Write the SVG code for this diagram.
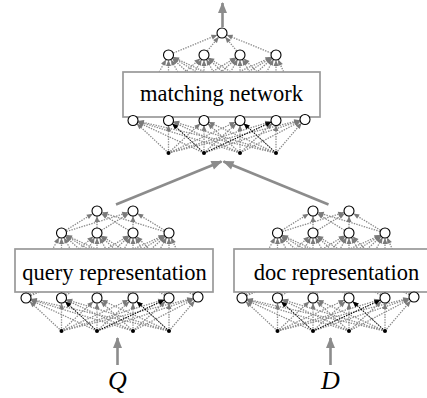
<svg xmlns="http://www.w3.org/2000/svg" xmlns:xlink="http://www.w3.org/1999/xlink" width="427" height="398" viewBox="0 0 427 398">
<style>
.c{fill:#fff;stroke:#000;stroke-width:1.1}
.dot{fill:#000}
.box{fill:#fff;stroke:#999;stroke-width:1.7}
.lbl{font-family:"Liberation Serif",serif;font-size:22.5px;text-anchor:middle;fill:#000}
.var{font-family:"Liberation Serif",serif;font-style:italic;font-size:26px;text-anchor:middle;fill:#000}
.dl line{stroke:#8a8a8a;stroke-width:1.3;stroke-dasharray:1.4 1.2;fill:none;marker-end:url(#ag)}
.bl line{stroke:#000;stroke-width:1;stroke-dasharray:1.4 1.2;marker-end:url(#ab)}
.big{stroke:#8c8c8c;stroke-width:2.6;fill:none;marker-end:url(#ah)}
</style>
<defs>
<marker id="ag" markerUnits="userSpaceOnUse" markerWidth="12" markerHeight="6" refX="11" refY="3" orient="auto" overflow="visible"><path d="M0,0.5 L6,3 L0,5.5z" fill="#7a7a7a"/></marker>
<marker id="ab" markerUnits="userSpaceOnUse" markerWidth="12" markerHeight="6" refX="11" refY="3" orient="auto" overflow="visible"><path d="M0,0.5 L6,3 L0,5.5z" fill="#000"/></marker>
<marker id="ah" markerUnits="userSpaceOnUse" markerWidth="11" markerHeight="9" refX="10" refY="4.5" orient="auto" overflow="visible"><path d="M0,0 L11,4.5 L0,9z" fill="#8c8c8c"/></marker>
</defs>
<g id="connectors">
<g id="fan-core" class="dl">
<line x1="61.5" y1="331" x2="26" y2="298"/><line x1="61.5" y1="331" x2="61.5" y2="298"/><line x1="61.5" y1="331" x2="97" y2="298"/><line x1="61.5" y1="331" x2="133" y2="298"/><line x1="61.5" y1="331" x2="169" y2="298"/><line x1="61.5" y1="331" x2="198" y2="297"/>
<line x1="97" y1="331" x2="26" y2="298"/><line x1="97" y1="331" x2="61.5" y2="298"/><line x1="97" y1="331" x2="97" y2="298"/><line x1="97" y1="331" x2="133" y2="298"/><line x1="97" y1="331" x2="169" y2="298"/><line x1="97" y1="331" x2="198" y2="297"/>
<line x1="133" y1="331" x2="26" y2="298"/><line x1="133" y1="331" x2="61.5" y2="298"/><line x1="133" y1="331" x2="97" y2="298"/><line x1="133" y1="331" x2="133" y2="298"/><line x1="133" y1="331" x2="169" y2="298"/><line x1="133" y1="331" x2="198" y2="297"/>
<line x1="169" y1="331" x2="26" y2="298"/><line x1="169" y1="331" x2="61.5" y2="298"/><line x1="169" y1="331" x2="97" y2="298"/><line x1="169" y1="331" x2="133" y2="298"/><line x1="169" y1="331" x2="169" y2="298"/><line x1="169" y1="331" x2="198" y2="297"/>
<line x1="26" y1="298" x2="61.5" y2="233"/><line x1="26" y1="298" x2="97" y2="233"/><line x1="26" y1="298" x2="133" y2="233"/><line x1="26" y1="298" x2="169" y2="233"/>
<line x1="61.5" y1="298" x2="61.5" y2="233"/><line x1="61.5" y1="298" x2="97" y2="233"/><line x1="61.5" y1="298" x2="133" y2="233"/><line x1="61.5" y1="298" x2="169" y2="233"/>
<line x1="97" y1="298" x2="61.5" y2="233"/><line x1="97" y1="298" x2="97" y2="233"/><line x1="97" y1="298" x2="133" y2="233"/><line x1="97" y1="298" x2="169" y2="233"/>
<line x1="133" y1="298" x2="61.5" y2="233"/><line x1="133" y1="298" x2="97" y2="233"/><line x1="133" y1="298" x2="133" y2="233"/><line x1="133" y1="298" x2="169" y2="233"/>
<line x1="169" y1="298" x2="61.5" y2="233"/><line x1="169" y1="298" x2="97" y2="233"/><line x1="169" y1="298" x2="133" y2="233"/><line x1="169" y1="298" x2="169" y2="233"/>
<line x1="198" y1="297" x2="61.5" y2="233"/><line x1="198" y1="297" x2="97" y2="233"/><line x1="198" y1="297" x2="133" y2="233"/><line x1="198" y1="297" x2="169" y2="233"/>
<g class="bl"><line x1="97" y1="331" x2="61.5" y2="298"/><line x1="169" y1="331" x2="133" y2="298"/><line x1="97" y1="331" x2="169" y2="298"/></g>
</g>
<g id="fan-top-q" class="dl">
<line x1="61.5" y1="233" x2="97" y2="211"/><line x1="97" y1="233" x2="97" y2="211"/><line x1="133" y1="233" x2="97" y2="211"/><line x1="169" y1="233" x2="97" y2="211"/>
<line x1="61.5" y1="233" x2="133" y2="211"/><line x1="97" y1="233" x2="133" y2="211"/><line x1="133" y1="233" x2="133" y2="211"/><line x1="169" y1="233" x2="133" y2="211"/>
</g>
<use xlink:href="#fan-core" href="#fan-core" transform="translate(216,0)"/>
<use xlink:href="#fan-top-q" href="#fan-top-q" transform="translate(216,0)"/>
<use xlink:href="#fan-core" href="#fan-core" transform="translate(107,-178)"/>
<g class="dl">
<line x1="168.5" y1="55" x2="222" y2="33"/><line x1="204" y1="55" x2="222" y2="33"/><line x1="240" y1="55" x2="222" y2="33"/><line x1="276" y1="55" x2="222" y2="33"/>
</g>
<line class="big" x1="116" y1="204.5" x2="221.5" y2="161.5"/>
<line class="big" x1="328.5" y1="204.5" x2="223.5" y2="161.5"/>
<line class="big" x1="222.5" y1="27" x2="222.5" y2="3"/>
<line class="big" x1="117.5" y1="365" x2="117.5" y2="338"/>
<line class="big" x1="330.5" y1="365" x2="330.5" y2="338"/>
</g>
<g id="query-net">
<g id="q-box"><rect class="box" x="15" y="249" width="198" height="43"/><text class="lbl" x="114.5" y="280">query representation</text></g>
<g id="q-in1"><circle class="dot" cx="61.5" cy="331" r="2"/></g>
<g id="q-in2"><circle class="dot" cx="97" cy="331" r="2"/></g>
<g id="q-in3"><circle class="dot" cx="133" cy="331" r="2"/></g>
<g id="q-in4"><circle class="dot" cx="169" cy="331" r="2"/></g>
<g id="q-b1"><circle class="c" cx="26" cy="298" r="5"/></g>
<g id="q-b2"><circle class="c" cx="61.5" cy="298" r="5"/></g>
<g id="q-b3"><circle class="c" cx="97" cy="298" r="5"/></g>
<g id="q-b4"><circle class="c" cx="133" cy="298" r="5"/></g>
<g id="q-b5"><circle class="c" cx="169" cy="298" r="5"/></g>
<g id="q-b6"><circle class="c" cx="198" cy="297" r="5"/></g>
<g id="q-h1"><circle class="c" cx="61.5" cy="233" r="5"/></g>
<g id="q-h2"><circle class="c" cx="97" cy="233" r="5"/></g>
<g id="q-h3"><circle class="c" cx="133" cy="233" r="5"/></g>
<g id="q-h4"><circle class="c" cx="169" cy="233" r="5"/></g>
<g id="q-t1"><circle class="c" cx="97" cy="211" r="5"/></g>
<g id="q-t2"><circle class="c" cx="133" cy="211" r="5"/></g>
</g>
<g id="doc-net" transform="translate(216,0)">
<g id="d-box"><rect class="box" x="18" y="249" width="220" height="43"/><text class="lbl" x="120.5" y="280">doc representation</text></g>
<g id="d-in1"><circle class="dot" cx="61.5" cy="331" r="2"/></g>
<g id="d-in2"><circle class="dot" cx="97" cy="331" r="2"/></g>
<g id="d-in3"><circle class="dot" cx="133" cy="331" r="2"/></g>
<g id="d-in4"><circle class="dot" cx="169" cy="331" r="2"/></g>
<g id="d-b1"><circle class="c" cx="26" cy="298" r="5"/></g>
<g id="d-b2"><circle class="c" cx="61.5" cy="298" r="5"/></g>
<g id="d-b3"><circle class="c" cx="97" cy="298" r="5"/></g>
<g id="d-b4"><circle class="c" cx="133" cy="298" r="5"/></g>
<g id="d-b5"><circle class="c" cx="169" cy="298" r="5"/></g>
<g id="d-b6"><circle class="c" cx="198" cy="297" r="5"/></g>
<g id="d-h1"><circle class="c" cx="61.5" cy="233" r="5"/></g>
<g id="d-h2"><circle class="c" cx="97" cy="233" r="5"/></g>
<g id="d-h3"><circle class="c" cx="133" cy="233" r="5"/></g>
<g id="d-h4"><circle class="c" cx="169" cy="233" r="5"/></g>
<g id="d-t1"><circle class="c" cx="97" cy="211" r="5"/></g>
<g id="d-t2"><circle class="c" cx="133" cy="211" r="5"/></g>
</g>
<g id="match-net" transform="translate(107,-178)">
<g id="m-box"><rect class="box" x="16" y="250" width="197" height="45"/><text class="lbl" x="114.5" y="279">matching network</text></g>
<g id="m-in1"><circle class="dot" cx="61.5" cy="331" r="2"/></g>
<g id="m-in2"><circle class="dot" cx="97" cy="331" r="2"/></g>
<g id="m-in3"><circle class="dot" cx="133" cy="331" r="2"/></g>
<g id="m-in4"><circle class="dot" cx="169" cy="331" r="2"/></g>
<g id="m-b1"><circle class="c" cx="26" cy="298.5" r="5"/></g>
<g id="m-b2"><circle class="c" cx="61.5" cy="298.5" r="5"/></g>
<g id="m-b3"><circle class="c" cx="97" cy="298.5" r="5"/></g>
<g id="m-b4"><circle class="c" cx="133" cy="298.5" r="5"/></g>
<g id="m-b5"><circle class="c" cx="169" cy="298.5" r="5"/></g>
<g id="m-b6"><circle class="c" cx="198" cy="297.5" r="5"/></g>
<g id="m-h1"><circle class="c" cx="61.5" cy="233" r="5"/></g>
<g id="m-h2"><circle class="c" cx="97" cy="233" r="5"/></g>
<g id="m-h3"><circle class="c" cx="133" cy="233" r="5"/></g>
<g id="m-h4"><circle class="c" cx="169" cy="233" r="5"/></g>
<g id="m-t1"><circle class="c" cx="115" cy="211" r="5"/></g>
</g>
<g id="var-q"><text class="var" x="117.5" y="389">Q</text></g>
<g id="var-d"><text class="var" x="330.5" y="389">D</text></g>
</svg>
